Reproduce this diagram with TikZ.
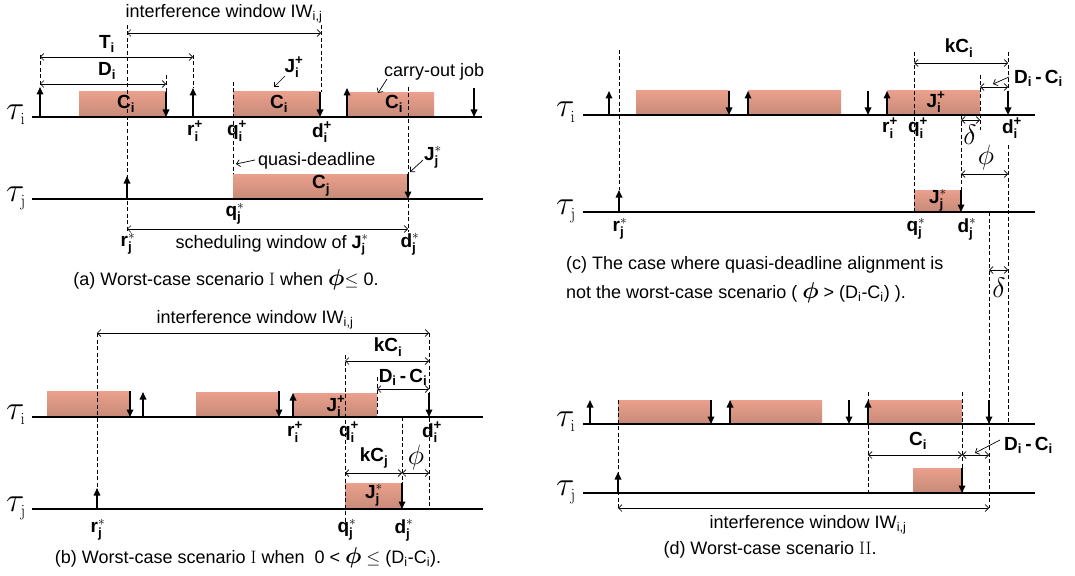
\documentclass[tikz,border=0pt]{standalone}
\usepackage{fix-cm}
\usepackage{amsmath}
\usepackage[no-math]{fontspec}
\setmainfont{Liberation Sans}
\usetikzlibrary{arrows.meta}
\definecolor{jobtop}{RGB}{234,160,140}
\definecolor{jobbot}{RGB}{198,138,120}
\newcommand{\Lab}[3]{$\textbf{#1}_{\textbf{#2}}^{#3}$}
\newcommand{\DmC}{$\textbf{D}_{\textbf{i}}\textbf{\,-\,}\textbf{C}_{\textbf{i}}$}
\newcommand{\Pl}{\textbf{+}}
\newcommand{\Bphi}{{\fontsize{23}{18}\selectfont$\boldsymbol{\phi}$}}
\newcommand{\Tau}[1]{$\tau_{\scriptscriptstyle\mathrm{#1}}$}
\tikzset{
 ax/.style={line width=1.4pt},
 up/.style={line width=1.6pt,-{Triangle[length=7.5pt,width=6.5pt]}},
 dsh/.style={line width=0.8pt,dash pattern=on 4pt off 2.5pt},
 dim/.style={line width=0.7pt,{Straight Barb[length=3.5pt,width=7pt]}-{Straight Barb[length=3.5pt,width=7pt]}},
 ptr/.style={line width=0.7pt,-{Straight Barb[length=3.5pt,width=7pt]}},
 job/.style={top color=jobtop,bottom color=jobbot,draw=none},
 lb/.style={font=\fontsize{19}{19}\selectfont\bfseries,inner sep=0pt},
 tx/.style={font=\fontsize{18}{18}\selectfont,inner sep=0pt},
 tau/.style={font=\fontsize{34}{34}\selectfont,inner sep=0pt,anchor=base west},
 gr/.style={font=\fontsize{28}{28}\selectfont,inner sep=0pt},
}
\begin{document}
\begin{tikzpicture}[x=1pt,y=-1pt]
\path[use as bounding box] (0,0) rectangle (1075,575);

%%%%%%%%%%%%%%%% (a)
\shade[job] (79,92) rectangle (166,117);
\shade[job] (233,92) rectangle (320,117);
\shade[job] (347,93) rectangle (434,117);
\shade[job] (233,174) rectangle (408,199);
\draw[ax] (32,117) -- (482,117);
\draw[ax] (32,199) -- (483,199);
\node[tau] (ati) at (6,119) {\Tau{i}};
\node[tau] (atj) at (6,201) {\Tau{j}};
\draw[dsh] (40,55) -- (40,87);
\draw[dsh] (166,75) -- (166,92);
\draw[dsh] (193,55) -- (193,88);
\draw[dsh] (127,25) -- (127,232);
\draw[dsh] (321,25) -- (321,92);
\draw[dsh] (233,82) -- (233,174);
\draw[dsh] (408,87) -- (408,232);
\draw[up] (40,117) -- (40,87);
\draw[up] (193,117) -- (193,88);
\draw[up] (347,117) -- (347,88);
\draw[up] (127,199) -- (127,176);
\draw[up] (166,92) -- (166,117);
\draw[up] (320,92) -- (320,117);
\draw[up] (474,88) -- (474,117);
\draw[up] (408,174) -- (408,199);
\draw[dim] (40,57) -- (193,57);
\draw[dim] (40,84) -- (166,84);
\draw[dim] (127,33) -- (321,33);
\draw[dim] (127,229) -- (408,229);
\node[tx] (aiw) at (224,14) {interference window IW$_{\text{i,j}}$};
\node[lb] (aT) at (107,44) {\Lab{T}{i}{}};
\node[lb] (aD) at (107,71) {\Lab{D}{i}{}};
\node[lb] (aC1) at (126,104) {\Lab{C}{i}{}};
\node[lb] (aC2) at (279,104) {\Lab{C}{i}{}};
\node[lb] (aC3) at (394,104) {\Lab{C}{i}{}};
\node[lb] (aCj) at (321,186) {\Lab{C}{j}{}};
\node[lb] (ari) at (195,131) {\Lab{r}{i}{\Pl}};
\node[lb] (aqi) at (237,131) {\Lab{q}{i}{\Pl}};
\node[lb] (adi) at (322,132) {\Lab{d}{i}{\Pl}};
\node[lb] (aJi) at (294,67) {\Lab{J}{i}{\Pl}};
\draw[ptr] (285,76) -- (274,87);
\node[tx,anchor=west] (aco) at (384,72) {carry-out job};
\draw[ptr] (387,79) -- (378,93);
\node[lb] (aJj) at (433,157) {\Lab{J}{j}{*}};
\draw[ptr] (423,160) -- (410,172);
\node[tx,anchor=west] (aqd) at (258,161) {quasi-deadline};
\draw[ptr] (255,160) -- (236,164);
\node[lb] (aqj) at (235,214) {\Lab{q}{j}{*}};
\node[lb] (arj) at (128,244) {\Lab{r}{j}{*}};
\node[lb] (adj) at (410,244) {\Lab{d}{j}{*}};
\node[tx] (asw) at (272,245) {scheduling window of \Lab{J}{j}{*}};
\node[tx] (acap) at (226,280) {(a) Worst-case scenario $\mathrm{I}$ when \Bphi$\leq$ 0.};

%%%%%%%%%%%%%%%% (b)
\shade[job] (47,391) rectangle (130,417);
\shade[job] (196,392) rectangle (279,417);
\shade[job] (293,393) rectangle (377,417);
\shade[job] (345,483) rectangle (402,509);
\draw[ax] (32,417) -- (483,417);
\draw[ax] (32,509) -- (483,509);
\node[tau] (bti) at (6,419) {\Tau{i}};
\node[tau] (btj) at (6,511) {\Tau{j}};
\draw[dsh] (97,333) -- (97,490);
\draw[dsh] (377,377) -- (377,417);
\draw[dsh] (345,355) -- (345,523);
\draw[dsh] (429,333) -- (429,510);
\draw[dsh] (402,417) -- (402,509);
\draw[up] (97,509) -- (97,488);
\draw[up] (130,391) -- (130,417);
\draw[up] (143,417) -- (143,392);
\draw[up] (279,391) -- (279,417);
\draw[up] (293,417) -- (293,393);
\draw[up] (429,393) -- (429,417);
\draw[up] (402,483) -- (402,509);
\draw[dim] (97,333) -- (429,333);
\draw[dim] (345,361) -- (429,361);
\draw[dim] (377,389) -- (429,389);
\draw[dim] (345,473) -- (402,473);
\draw[dim] (402,473) -- (429,473);
\node[tx] (biw) at (255,320) {interference window IW$_{\text{i,j}}$};
\node[lb] (bkC) at (388,347) {\Lab{kC}{i}{}};
\node[lb] (bDC) at (403,377) {\DmC};
\node[lb] (bJi) at (336,406) {\Lab{J}{i}{\Pl}};
\node[lb] (bri) at (295,432) {\Lab{r}{i}{\Pl}};
\node[lb] (bqi) at (349,432) {\Lab{q}{i}{\Pl}};
\node[lb] (bdi) at (432,432) {\Lab{d}{i}{\Pl}};
\node[lb] (bkCj) at (374,458) {\Lab{kC}{j}{}};
\node[gr] (bphi) at (416,457) {$\phi$};
\node[lb] (bJj) at (374,495) {\Lab{J}{j}{*}};
\node[lb] (brj) at (98,530) {\Lab{r}{j}{*}};
\node[lb] (bqj) at (347,530) {\Lab{q}{j}{*}};
\node[lb] (bdj) at (404,530) {\Lab{d}{j}{*}};
\node[tx] (bcap) at (248,558) {(b) Worst-case scenario $\mathrm{I}$ when\ \ 0 < \Bphi\ $\leq$ (D$_{\text{i}}$-C$_{\text{i}}$).};

%%%%%%%%%%%%%%%% (c)
\shade[job] (636,91) rectangle (729,115);
\shade[job] (748,91) rectangle (841,115);
\shade[job] (887,91) rectangle (980,115);
\shade[job] (914,190) rectangle (961,212);
\draw[ax] (583,115) -- (1035,115);
\draw[ax] (583,212) -- (1035,212);
\node[tau] (cti) at (556,117) {\Tau{i}};
\node[tau] (ctj) at (556,214) {\Tau{j}};
\draw[dsh] (619,50) -- (619,190);
\draw[dsh] (914,52) -- (914,212);
\draw[dsh] (1008,52) -- (1008,98);
\draw[dsh] (980,75) -- (980,130);
\draw[dsh] (961,115) -- (961,212);
\draw[dsh] (1008,145) -- (1008,424);
\draw[dsh] (989,212) -- (989,508);
\draw[up] (619,212) -- (619,190);
\draw[up] (609,115) -- (609,91);
\draw[up] (729,91) -- (729,115);
\draw[up] (748,115) -- (748,91);
\draw[up] (868,91) -- (868,115);
\draw[up] (887,115) -- (887,91);
\draw[up] (1008,91) -- (1008,115);
\draw[up] (961,190) -- (961,212);
\draw[dim] (914,63) -- (1008,63);
\draw[dim] (980,87) -- (1008,87);
\draw[dim] (961,120) -- (980,120);
\draw[dim] (961,174) -- (1008,174);
\draw[dim] (989,270) -- (1008,270);
\node[lb] (ckC) at (959,48) {\Lab{kC}{i}{}};
\node[lb,anchor=west] (cDC) at (1014,78) {\DmC};
\draw[ptr] (1009,77) -- (993,84);
\node[lb] (cJi) at (936,102) {\Lab{J}{i}{\Pl}};
\node[lb] (cri) at (890,128) {\Lab{r}{i}{\Pl}};
\node[lb] (cqi) at (918,128) {\Lab{q}{i}{\Pl}};
\node[lb] (cdi) at (1012,128) {\Lab{d}{i}{\Pl}};
\node[gr] (cdel) at (970,135) {$\delta$};
\node[gr] (cphi) at (986,157) {$\phi$};
\node[lb] (cJj) at (938,200) {\Lab{J}{j}{*}};
\node[lb] (crj) at (620,229) {\Lab{r}{j}{*}};
\node[lb] (cqj) at (916,229) {\Lab{q}{j}{*}};
\node[lb] (cdj) at (967,229) {\Lab{d}{j}{*}};
\node[gr] (cdel2) at (999,288) {$\delta$};
\node[tx,anchor=west,align=left] (ccap) at (566,280) {(c) The case where quasi-deadline alignment is\\[8pt]not the worst-case scenario ( \Bphi\ > (D$_{\text{i}}$-C$_{\text{i}}$) ).};

%%%%%%%%%%%%%%%% (d)
\shade[job] (618,400) rectangle (711,424);
\shade[job] (730,400) rectangle (822,424);
\shade[job] (868,400) rectangle (962,424);
\shade[job] (913,468) rectangle (962,493);
\draw[ax] (583,424) -- (1035,424);
\draw[ax] (583,493) -- (1035,493);
\node[tau] (dti) at (556,426) {\Tau{i}};
\node[tau] (dtj) at (556,495) {\Tau{j}};
\draw[dsh] (618,400) -- (618,508);
\draw[dsh] (868,392) -- (868,493);
\draw[dsh] (962,392) -- (962,493);
\draw[up] (590,424) -- (590,400);
\draw[up] (711,400) -- (711,424);
\draw[up] (730,424) -- (730,400);
\draw[up] (849,400) -- (849,424);
\draw[up] (868,424) -- (868,400);
\draw[up] (989,400) -- (989,424);
\draw[up] (618,493) -- (618,472);
\draw[up] (962,468) -- (962,493);
\draw[dim] (868,455) -- (962,455);
\draw[dim] (962,455) -- (989,455);
\draw[dim] (618,508) -- (989,508);
\node[lb] (dC) at (918,441) {\Lab{C}{i}{}};
\node[lb,anchor=west] (dDC) at (1004,445) {\DmC};
\draw[ptr] (1000,440) -- (975,453);
\node[tx] (diw) at (808,525) {interference window IW$_{\text{i,j}}$};
\node[tx] (dcap) at (770,550) {(d) Worst-case scenario $\mathrm{II}$.};
\end{tikzpicture}
\end{document}
